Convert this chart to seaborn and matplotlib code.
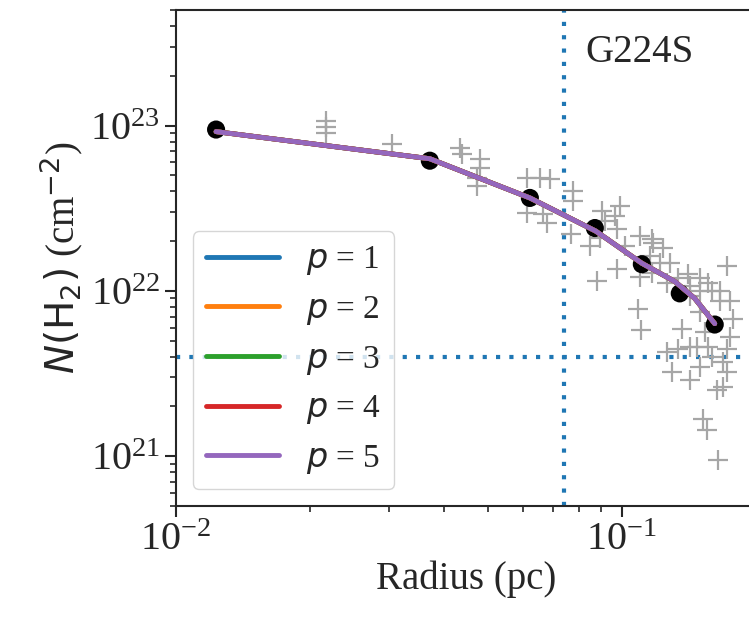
import numpy as np
import pandas as pd
import matplotlib
matplotlib.use("Agg")
import matplotlib.pyplot as plt
import seaborn as sns

# pixel data (gray crosses)
pix_r = [0.0217, 0.0217, 0.0217, 0.0305, 0.0434, 0.0438, 0.0480, 0.0480, 0.0473, 0.0473,
         0.0612, 0.0655, 0.0690, 0.0612, 0.0665, 0.0679, 0.0776, 0.0776, 0.0769, 0.0902,
         0.0965, 0.0916, 0.0975, 0.0893, 0.0848, 0.1097, 0.1173, 0.1235, 0.0975, 0.0879,
         0.1097, 0.1167, 0.1262, 0.1336, 0.1406, 0.1496, 0.1559, 0.1719, 0.1086, 0.1103,
         0.1363, 0.1496, 0.1658, 0.1773, 0.1336, 0.1473, 0.1559, 0.1719, 0.1295, 0.1421,
         0.1633, 0.1684, 0.1719, 0.1519, 0.1551, 0.1641, 0.1167, 0.1421,
         0.1156, 0.1216, 0.1281, 0.1421, 0.1496, 0.1590, 0.1658, 0.1746, 0.1535, 0.1421,
         0.1262, 0.1590, 0.1690, 0.1496, 0.1746, 0.0990, 0.1015]
pix_n = [1.07e23, 9.86e22, 9.07e22, 7.77e22, 7.35e22, 6.76e22, 6.30e22, 5.56e22, 4.83e22, 4.32e22,
         4.83e22, 4.83e22, 4.76e22, 2.96e22, 2.92e22, 2.57e22, 4.03e22, 3.50e22, 2.21e22, 3.04e22,
         2.84e22, 2.65e22, 2.37e22, 2.08e22, 1.86e22, 2.14e22, 1.94e22, 1.81e22, 1.35e22, 1.14e22,
         1.21e22, 1.28e22, 1.11e22, 1.19e22, 1.26e22, 1.19e22, 1.11e22, 1.41e22, 7.72e21, 5.84e21,
         5.92e21, 7.50e21, 8.63e21, 6.80e21, 4.47e21, 4.60e21, 4.60e21, 4.47e21, 3.24e21, 2.90e21,
         2.52e21, 2.63e21, 3.24e21, 1.68e21, 1.44e21, 9.46e20, 2.06e22, 9.26e21,
         1.62e22, 1.47e22, 1.47e22, 1.07e22, 9.93e21, 9.93e21, 9.93e21, 5.29e21, 5.67e21, 4.60e21,
         4.29e21, 4.00e21, 3.73e21, 3.47e21, 8.63e21, 3.26e22, 1.86e22]

# binned profile (black dots)
bin_r = [0.0123, 0.0371, 0.0622, 0.0870, 0.1109, 0.1349, 0.1616]
bin_n = [9.46e22, 6.13e22, 3.65e22, 2.40e22, 1.45e22, 9.66e21, 6.26e21]

# fitted profiles for p = 1..5 (all nearly identical)
fit_r = [0.0123, 0.0371, 0.0622, 0.0874, 0.1109, 0.1315, 0.1458, 0.1616]
fit_n = [9.19e22, 6.30e22, 3.65e22, 2.30e22, 1.47e22, 1.14e22, 9.0e21, 6.34e21]
p_values = [1, 2, 3, 4, 5]

r_flat = 0.074
n_bg = 4.0e21

sns.set_style("ticks")
plt.rcParams['font.family'] = ['Liberation Serif', 'DejaVu Serif']
plt.rcParams['mathtext.fontset'] = 'custom'
plt.rcParams['mathtext.rm'] = 'DejaVu Sans'
plt.rcParams['mathtext.it'] = 'DejaVu Sans:italic'

fig = plt.figure(figsize=(7.49, 6.30), dpi=100)
ax = fig.add_axes([176 / 749, 1 - 506 / 630, 580 / 749, 496 / 630])

ax.axvline(r_flat, color='tab:blue', lw=3, ls=(0, (1, 2.2)), zorder=1)
ax.axhline(n_bg, color='tab:blue', lw=3, ls=(0, (1, 2.2)), zorder=1)

sns.scatterplot(x=pix_r, y=pix_n, marker='+', s=200, color='#a6a6a6', linewidth=1.6, ax=ax, zorder=2)
sns.scatterplot(x=bin_r, y=bin_n, s=170, color='black', edgecolor='none', ax=ax, zorder=3)

colors = sns.color_palette("tab10", 5)
for i, p in enumerate(p_values):
    sns.lineplot(x=fit_r, y=fit_n, color=colors[i], lw=3.5, label=f"$p$ = {p}", ax=ax, zorder=4)

ax.set_xscale('log')
ax.set_yscale('log')
ax.set_xlim(0.01, 0.2)
ax.set_ylim(5e20, 5e23)

ax.text(0.705, 0.915, "G224S", transform=ax.transAxes, fontsize=28, va='center', ha='left')

ax.set_xlabel("Radius (pc)", fontsize=28, labelpad=1)
ax.set_ylabel(r"$N(\mathrm{H_2})$ (cm$^{-2}$)", fontsize=28)
ax.tick_params(axis='both', which='major', labelsize=29, length=8, width=1.5, direction='out')
ax.tick_params(axis='both', which='minor', length=4.5, width=1.2, direction='out')
for s in ax.spines.values():
    s.set_linewidth(1.5)

ax.legend(loc='lower left', fontsize=24, handlelength=2.2, frameon=True, framealpha=0.8)

fig.savefig("out.png", dpi=100)
